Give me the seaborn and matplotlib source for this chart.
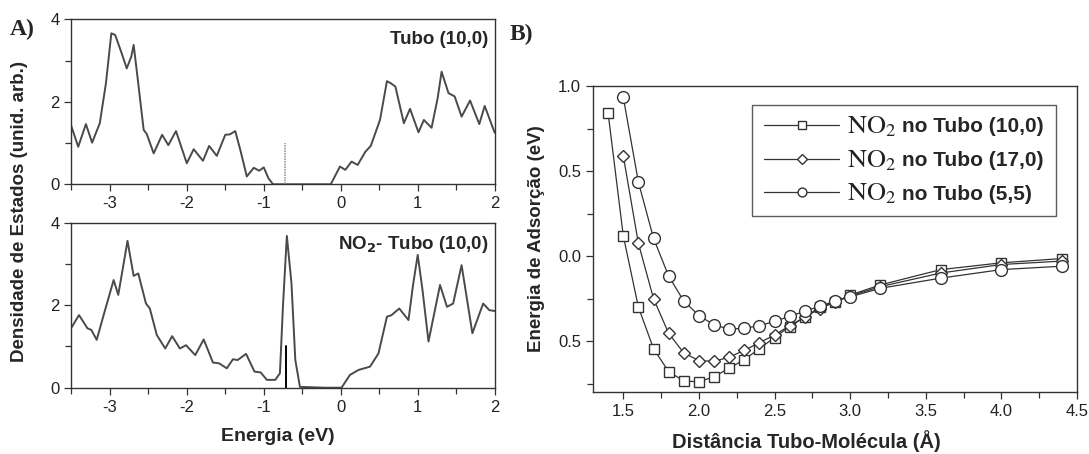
import matplotlib
matplotlib.use('Agg')
import matplotlib.pyplot as plt
import seaborn as sns
from matplotlib.font_manager import FontProperties
from matplotlib.ticker import MultipleLocator, FuncFormatter

sns.set_style('ticks')
plt.rcParams['font.family'] = ['Liberation Sans', 'DejaVu Sans']
plt.rcParams['axes.unicode_minus'] = False

# ---- panel A: density of states ----
e_tubo = [-3.5, -3.41, -3.31, -3.23, -3.13, -3.05, -2.98, -2.93, -2.85, -2.78, -2.72, -2.69,
          -2.64, -2.56, -2.52, -2.43, -2.32, -2.24, -2.14, -2.0, -1.91, -1.79, -1.71, -1.61,
          -1.5, -1.44, -1.37, -1.3, -1.22, -1.13, -1.06, -1.0, -0.94, -0.88, -0.5, -0.13,
          -0.01, 0.06, 0.14, 0.22, 0.32, 0.39, 0.51, 0.6, 0.65, 0.71, 0.82, 0.9, 1.01, 1.08,
          1.18, 1.26, 1.31, 1.4, 1.48, 1.57, 1.68, 1.8, 1.87, 2.0]
dos_tubo = [1.41, 0.91, 1.46, 1.01, 1.48, 2.45, 3.66, 3.62, 3.2, 2.81, 3.1, 3.38,
            2.6, 1.32, 1.22, 0.75, 1.2, 0.95, 1.29, 0.51, 0.85, 0.57, 0.93, 0.69,
            1.2, 1.21, 1.29, 0.8, 0.19, 0.4, 0.33, 0.41, 0.15, 0.0, 0.0, 0.0,
            0.43, 0.35, 0.55, 0.47, 0.79, 0.93, 1.56, 2.5, 2.45, 2.37, 1.48, 1.83, 1.26, 1.56,
            1.37, 2.1, 2.73, 2.21, 2.13, 1.64, 2.03, 1.46, 1.9, 1.25]

e_no2 = [-3.5, -3.4, -3.29, -3.24, -3.17, -3.08, -2.95, -2.89, -2.83, -2.77, -2.69, -2.63,
         -2.53, -2.48, -2.39, -2.28, -2.19, -2.09, -2.01, -1.89, -1.78, -1.66, -1.58, -1.48,
         -1.4, -1.34, -1.23, -1.12, -1.04, -0.96, -0.85, -0.79, -0.75, -0.70, -0.64, -0.59,
         -0.53, -0.2, 0.01, 0.12, 0.23, 0.38, 0.49, 0.6, 0.66, 0.76, 0.88, 0.94, 1.0, 1.06,
         1.14, 1.29, 1.38, 1.46, 1.57, 1.71, 1.85, 1.93, 2.0]
dos_no2 = [1.45, 1.76, 1.44, 1.40, 1.16, 1.76, 2.61, 2.25, 2.9, 3.56, 2.71, 2.77,
           2.04, 1.92, 1.28, 0.95, 1.25, 0.95, 1.03, 0.79, 1.17, 0.61, 0.59, 0.47,
           0.69, 0.67, 0.82, 0.39, 0.37, 0.19, 0.19, 0.35, 2.0, 3.68, 2.53, 0.67,
           0.02, 0.0, 0.0, 0.31, 0.43, 0.51, 0.83, 1.72, 1.76, 1.92, 1.64, 2.5, 3.22, 2.4,
           1.12, 2.49, 1.96, 2.04, 2.97, 1.32, 2.04, 1.88, 1.86]

fermi_tubo = -0.73
fermi_no2 = -0.71

# ---- panel B: adsorption energy vs distance ----
dist_10_0 = [1.4, 1.5, 1.6, 1.7, 1.8, 1.9, 2.0, 2.1, 2.2, 2.3, 2.4, 2.5, 2.6, 2.7, 2.8, 2.9,
             3.0, 3.2, 3.6, 4.0, 4.4]
e_10_0 = [0.84, 0.12, -0.30, -0.545, -0.68, -0.735, -0.74, -0.71, -0.66, -0.61, -0.545,
          -0.48, -0.415, -0.36, -0.30, -0.27, -0.23, -0.17, -0.08, -0.04, -0.015]
dist_17_0 = [1.5, 1.6, 1.7, 1.8, 1.9, 2.0, 2.1, 2.2, 2.3, 2.4, 2.5, 2.6, 2.7, 2.8, 2.9,
             3.0, 3.2, 3.6, 4.0, 4.4]
e_17_0 = [0.59, 0.075, -0.25, -0.455, -0.57, -0.615, -0.62, -0.595, -0.555, -0.51, -0.465,
          -0.41, -0.36, -0.31, -0.27, -0.235, -0.18, -0.10, -0.05, -0.03]
dist_5_5 = [1.5, 1.6, 1.7, 1.8, 1.9, 2.0, 2.1, 2.2, 2.3, 2.4, 2.5, 2.6, 2.7, 2.8, 2.9,
            3.0, 3.2, 3.6, 4.0, 4.4]
e_5_5 = [0.935, 0.435, 0.105, -0.118, -0.265, -0.35, -0.405, -0.43, -0.425, -0.41, -0.385,
         -0.355, -0.325, -0.295, -0.265, -0.24, -0.19, -0.13, -0.08, -0.06]

series_b = [
    (dist_10_0, e_10_0, 's', 7.5, 'no Tubo (10,0)'),
    (dist_17_0, e_17_0, 'D', 6.5, 'no Tubo (17,0)'),
    (dist_5_5, e_5_5, 'o', 8.5, 'no Tubo (5,5)'),
]

W, H = 1089, 454
fig = plt.figure(figsize=(W / 100, H / 100), dpi=100)
ax_top = fig.add_axes([71.3 / W, 1 - 184.3 / H, 423.4 / W, 165 / H])
ax_bot = fig.add_axes([71.3 / W, 1 - 387.7 / H, 423.4 / W, 165 / H])
ax_b = fig.add_axes([593 / W, 1 - 392 / H, 484 / W, 306 / H])

dark = '#333333'
curve = '#4a4a4a'

sns.lineplot(x=e_tubo, y=dos_tubo, ax=ax_top, color=curve, lw=1.4, sort=False)
ax_top.plot([fermi_tubo, fermi_tubo], [0, 1], color='#9a9a9a', lw=1.2, ls=(0, (1, 0.6)))
sns.lineplot(x=e_no2, y=dos_no2, ax=ax_bot, color=curve, lw=1.4, sort=False)
ax_bot.plot([fermi_no2, fermi_no2], [0, 1], color='black', lw=1.4)

for ax in (ax_top, ax_bot):
    ax.set_xlim(-3.5, 2)
    ax.set_ylim(0, 4)
    ax.xaxis.set_major_locator(MultipleLocator(1))
    ax.xaxis.set_minor_locator(MultipleLocator(0.5))
    ax.yaxis.set_major_locator(MultipleLocator(2))
    ax.yaxis.set_minor_locator(MultipleLocator(1))
    ax.set_xlabel('')
    ax.set_ylabel('')

ax_top.text(0.985, 0.93, 'Tubo (10,0)', transform=ax_top.transAxes, ha='right', va='top',
            fontsize=13.5, fontweight='bold')
ax_bot.text(0.985, 0.93, r'NO$_\mathbf{2}$- Tubo (10,0)', transform=ax_bot.transAxes,
            ha='right', va='top',
            fontproperties=FontProperties(family='Liberation Sans', weight='bold', size=13.5,
                                          math_fontfamily='dejavusans'))
fig.text(0.018, 0.535, 'Densidade de Estados (unid. arb.)', rotation=90, ha='center',
         va='center', fontsize=13.5, fontweight='bold')
fig.text(0.255, 0.038, 'Energia (eV)', ha='center', va='center', fontsize=14,
         fontweight='bold')

for x, y, m, ms, lab in series_b:
    sns.lineplot(x=x, y=y, ax=ax_b, color=dark, lw=0.9, marker=m, markersize=ms,
                 markerfacecolor='white', markeredgecolor=dark, markeredgewidth=1.0,
                 label=lab)

ax_b.set_xlim(1.3, 4.5)
ax_b.set_ylim(-0.80, 1.0)
ax_b.xaxis.set_major_locator(MultipleLocator(0.5))
ax_b.xaxis.set_minor_locator(MultipleLocator(0.25))
ax_b.yaxis.set_major_locator(MultipleLocator(0.5))
ax_b.yaxis.set_minor_locator(MultipleLocator(0.25))
# the source figure prints the negative tick without its minus sign
ax_b.yaxis.set_major_formatter(FuncFormatter(lambda v, p: f'{abs(v):.1f}'))
ax_b.set_xlabel('Distância Tubo-Molécula (Å)', fontsize=14.5, fontweight='bold')
ax_b.set_ylabel('Energia de Adsorção (eV)', fontsize=13.5, fontweight='bold')
ax_b.xaxis.set_label_coords(0.44, -0.125)
ax_b.yaxis.set_label_coords(-0.1, 0.5)

leg_font = FontProperties(family='Liberation Sans', weight='bold', size=15)
leg = ax_b.legend(loc='upper right', bbox_to_anchor=(0.978, 0.972), prop=leg_font,
                  handlelength=3.6, handletextpad=3.0, borderpad=0.6, labelspacing=0.7,
                  fancybox=False, frameon=True, markerscale=0.75)
leg.get_frame().set_edgecolor(dark)
leg.get_frame().set_linewidth(1.0)
# "NO2" is set in a larger serif face in front of each legend entry
for t in leg.get_texts():
    ax_b.annotate(r'$\mathrm{NO_2}$', xy=(0, 0.0), xycoords=t, xytext=(-4, -2),
                  textcoords='offset points', ha='right', va='bottom', fontsize=19,
                  math_fontfamily='stix', color='#222222', zorder=10)

for ax in (ax_top, ax_bot, ax_b):
    for s in ax.spines.values():
        s.set_color(dark)
        s.set_linewidth(1.0)
    ax.tick_params(which='major', direction='out', length=5, width=0.9, color=dark,
                   labelsize=12, labelcolor='#222222', top=False, right=False)
    ax.tick_params(which='minor', direction='out', length=4, width=0.9, color=dark,
                   top=False, right=False)

fig.text(0.009, 0.935, 'A)', family='Liberation Serif', fontweight='bold', fontsize=17,
         va='center')
fig.text(0.468, 0.925, 'B)', family='Liberation Serif', fontweight='bold', fontsize=17,
         va='center')

fig.savefig('out.png', dpi=100)
